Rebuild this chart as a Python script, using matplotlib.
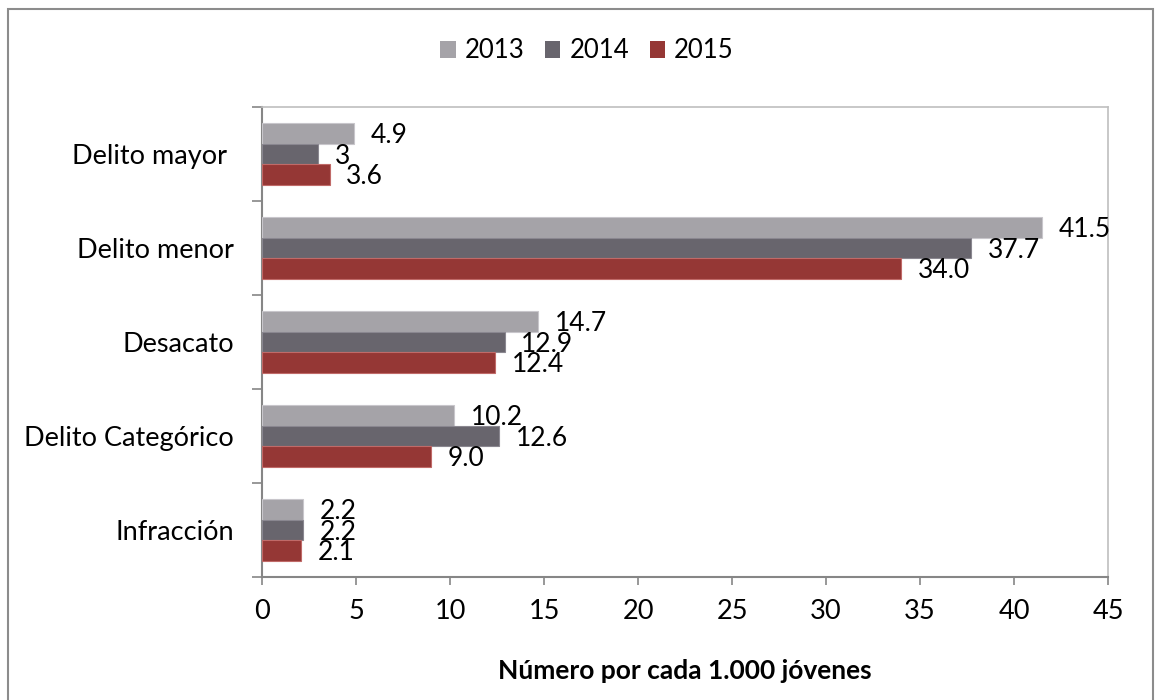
import matplotlib
matplotlib.use("Agg")
import matplotlib.pyplot as plt
import numpy as np
from matplotlib.patches import Rectangle

categories = ["Delito mayor ", "Delito menor", "Desacato", "Delito Categórico", "Infracción"]
years = ["2013", "2014", "2015"]
v2013 = [4.9, 41.5, 14.7, 10.2, 2.2]
v2014 = [3.0, 37.7, 12.9, 12.6, 2.2]
v2015 = [3.6, 34.0, 12.4, 9.0, 2.1]
labels2013 = ["4.9", "41.5", "14.7", "10.2", "2.2"]
labels2014 = ["3", "37.7", "12.9", "12.6", "2.2"]
labels2015 = ["3.6", "34.0", "12.4", "9.0", "2.1"]
xticks = [0, 5, 10, 15, 20, 25, 30, 35, 40, 45]

colors = ["#A5A3A8", "#68656D", "#953735"]
edgecolors = ["#C8C6CB", "#8A8790", "#C06A68"]

plt.rcParams['font.family'] = ['Lato', 'DejaVu Sans']

fig = plt.figure(figsize=(11.57, 7.0), dpi=100)
ax = fig.add_axes([262/1157, 1-577/700, (1108-262)/1157, (577-107)/700])

n = len(categories)
pos = np.arange(n)
h = 0.22
series = [v2013, v2014, v2015]
labs = [labels2013, labels2014, labels2015]
for k, (vals, lab) in enumerate(zip(series, labs)):
    yy = pos + (k - 1) * h
    ax.barh(yy, vals, height=h, color=colors[k], edgecolor=edgecolors[k],
            linewidth=0.8, label=years[k], zorder=3)
    for y, v, t in zip(yy, vals, lab):
        ax.annotate(t, (v, y), xytext=(12.0, -1.5), textcoords="offset points",
                    ha="left", va="center", fontsize=19, color="black", zorder=4)

ax.set_xlim(0, 45)
ax.set_ylim(n - 0.5, -0.5)
ax.set_xticks(xticks)
ax.set_xticklabels([str(x) for x in xticks], fontsize=19.5)
ax.set_yticks(pos)
ax.set_yticklabels(categories, fontsize=19.5)
ax.set_yticks(np.arange(n + 1) - 0.5, minor=True)
ax.tick_params(axis="y", which="major", length=0, pad=20)
ax.tick_params(axis="y", which="minor", length=7, width=1.2, color="#868686", direction="out")
ax.tick_params(axis="x", length=6, width=1.2, color="#868686", direction="out", pad=10)

for s in ["left", "bottom"]:
    ax.spines[s].set_color("#868686")
    ax.spines[s].set_linewidth(1.5)
for s in ["top", "right"]:
    ax.spines[s].set_color("#BFBFBF")
    ax.spines[s].set_linewidth(1.2)

ax.set_xlabel("Número por cada 1.000 jóvenes", fontsize=19, fontweight="bold", labelpad=25)

leg = fig.legend(loc="center", bbox_to_anchor=(587/1157, 1-51/700), ncol=3, frameon=False,
                 fontsize=18.5, handlelength=0.6, handleheight=0.6, handletextpad=0.35,
                 columnspacing=0.8)
for p in leg.get_patches():
    p.set_edgecolor("none")

frame = Rectangle((8/1157, -0.01), (1153-8)/1157, 1-9/700 + 0.01, transform=fig.transFigure,
                  fill=False, edgecolor="#8C8C8C", linewidth=1.5)
fig.patches.append(frame)

fig.savefig("out.png", dpi=100)
